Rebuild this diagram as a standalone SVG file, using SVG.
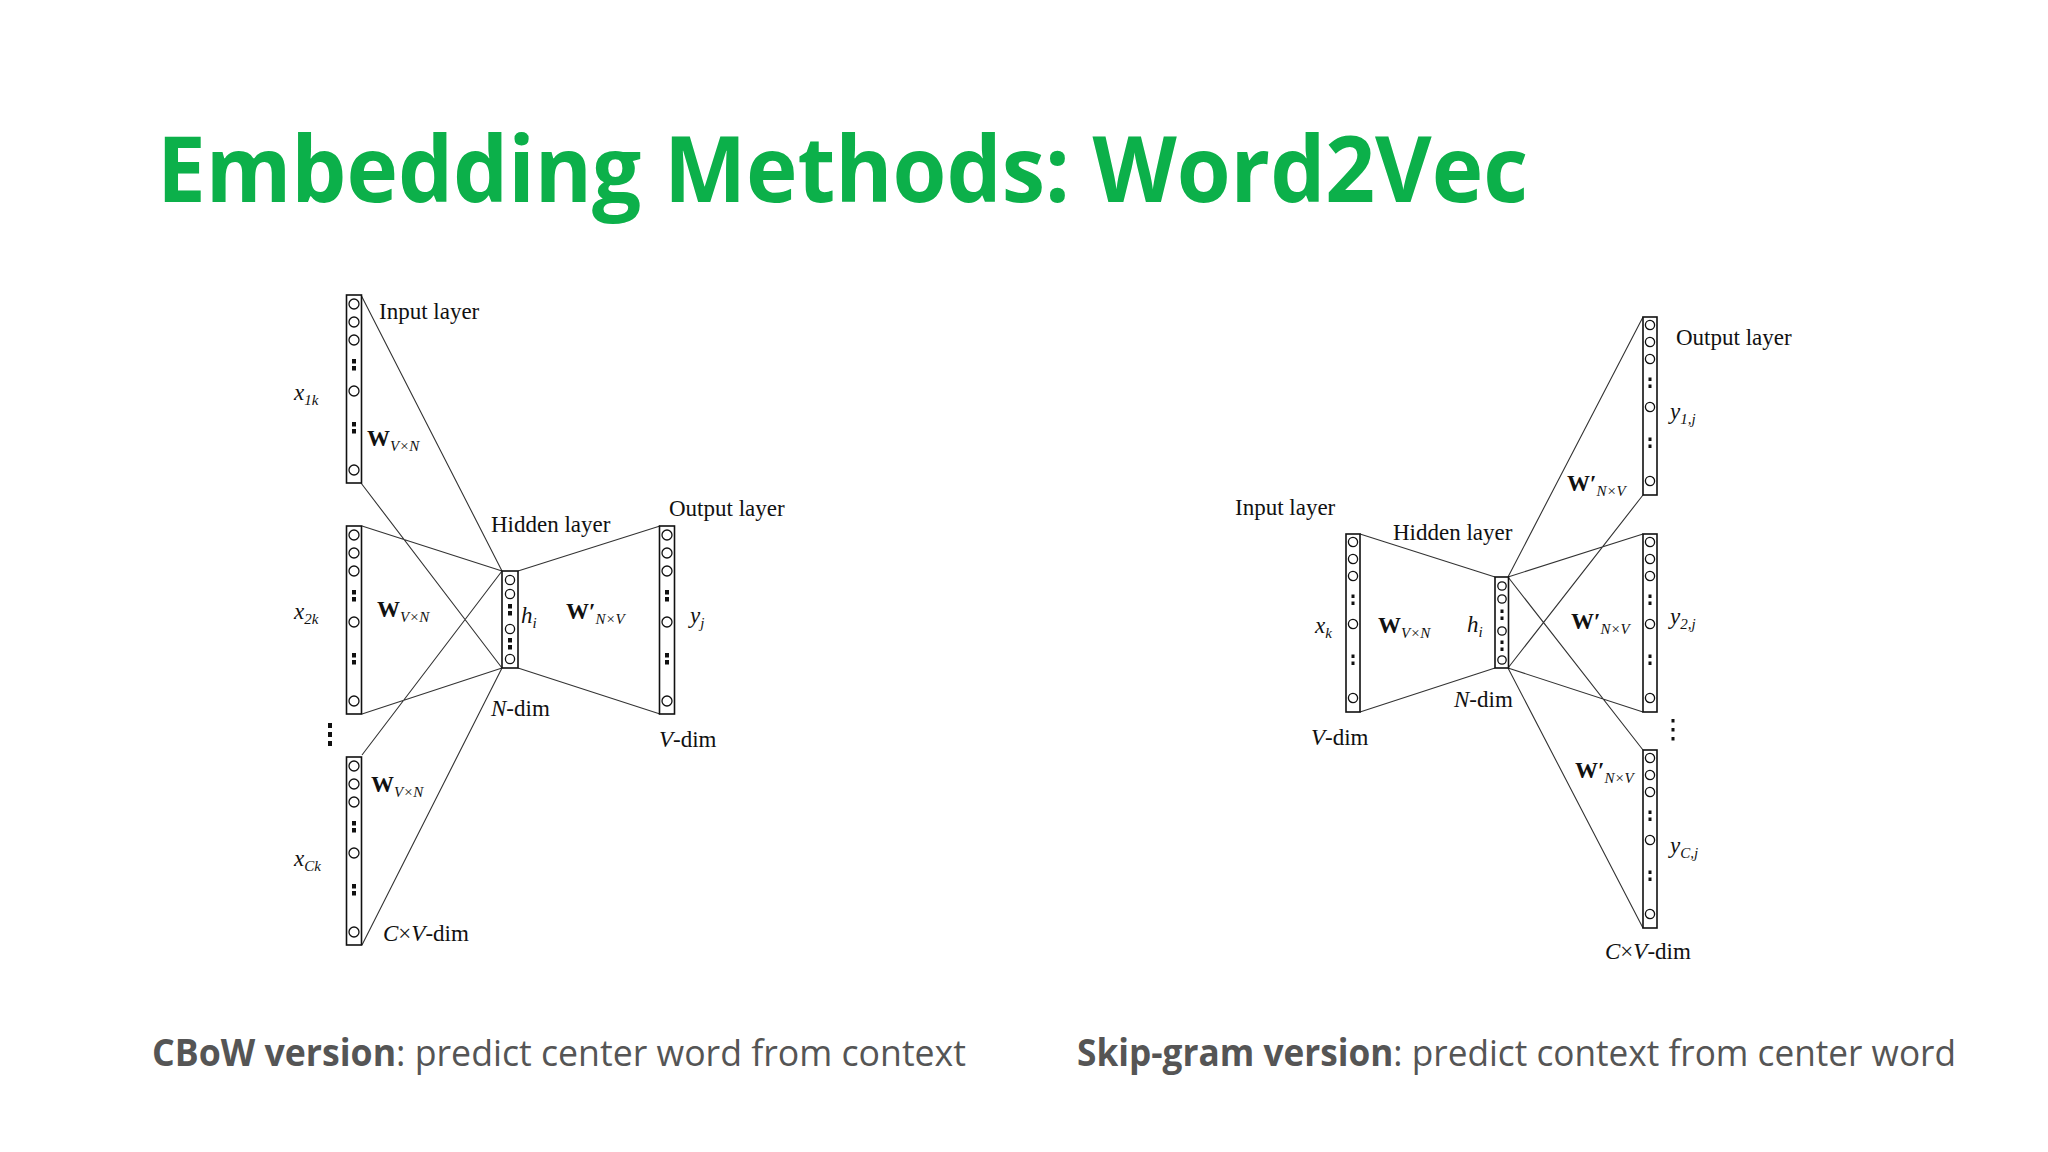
<svg xmlns="http://www.w3.org/2000/svg" width="2048" height="1152" viewBox="0 0 2048 1152">
<style>
.t{font-family:"Liberation Serif",serif;font-size:23px;fill:#111}
.i{font-style:italic}
.b{font-weight:bold}
.s{font-size:15px;font-style:italic}
.box{fill:#fff;stroke:#111;stroke-width:1.6}
.c{fill:#fff;stroke:#111;stroke-width:1.3}
.l{stroke:#333;stroke-width:1.1;fill:none}
.cap{font-family:"Open Sans","Liberation Sans",sans-serif;font-size:37px;fill:#555}
</style>
<defs>
<g id="dots"><rect x="-2" y="-2" width="4" height="4.5" fill="#111"/><rect x="-2" y="5" width="4" height="4.5" fill="#111"/></g>
<g id="lcol">
<rect class="box" x="-7.5" y="0" width="15" height="188"/>
<circle class="c" cx="0" cy="9" r="5"/><circle class="c" cx="0" cy="27" r="5"/><circle class="c" cx="0" cy="45" r="5"/>
<use href="#dots" y="66"/><circle class="c" cx="0" cy="96" r="5"/><use href="#dots" y="129"/><circle class="c" cx="0" cy="175" r="5"/>
</g>
<g id="sdots"><rect x="-1.5" y="-1.5" width="3" height="3.5" fill="#111"/><rect x="-1.5" y="5.5" width="3" height="3.5" fill="#111"/></g>
<g id="rcol">
<rect class="box" x="-7" y="0" width="14" height="178"/>
<circle class="c" cx="0" cy="8" r="4.6"/><circle class="c" cx="0" cy="25" r="4.6"/><circle class="c" cx="0" cy="42" r="4.6"/>
<use href="#sdots" y="62"/><circle class="c" cx="0" cy="90" r="4.6"/><use href="#sdots" y="122"/><circle class="c" cx="0" cy="164" r="4.6"/>
</g>
</defs>
<rect width="2048" height="1152" fill="#fff"/>
<text x="157" y="202" font-family="'Open Sans','Liberation Sans',sans-serif" font-weight="bold" font-size="92" fill="#0cb04a" textLength="1371" lengthAdjust="spacingAndGlyphs">Embedding Methods: Word2Vec</text>

<g id="connectors">
<path class="l" d="M361,295L502,571M361,483L502,668M362,526L502,571M362,714L502,668M362,755L502,571M362,945L502,668M518,571L660,526M518,668L660,714"/>
<path class="l" d="M1360,534L1495,577M1360,712L1495,668M1508,577L1643,317M1508,668L1643,495M1508,577L1643,534M1508,668L1643,712M1508,577L1643,750M1508,668L1643,928"/>
</g>

<g id="cbow-input1"><use href="#lcol" x="354" y="295"/></g>
<g id="cbow-input2"><use href="#lcol" x="354" y="526"/></g>
<g id="cbow-input3"><use href="#lcol" x="354" y="757"/></g>
<g id="cbow-output"><use href="#lcol" x="667" y="526"/></g>
<g id="cbow-hidden">
<rect class="box" x="502" y="571" width="16" height="97"/>
<circle class="c" cx="510" cy="580" r="4.6"/><circle class="c" cx="510" cy="594" r="4.6"/>
<use href="#dots" x="510" y="606"/><circle class="c" cx="510" cy="629" r="4.6"/><use href="#dots" x="510" y="640"/><circle class="c" cx="510" cy="659" r="4.6"/>
</g>
<g id="cbow-vdots"><rect x="328" y="723" width="4" height="5" fill="#111"/><rect x="328" y="732" width="4" height="5" fill="#111"/><rect x="328" y="741" width="4" height="5" fill="#111"/></g>
<g id="cbow-labels">
<text class="t" x="379" y="319">Input layer</text>
<text class="t i" x="294" y="400">x<tspan class="s" dy="5">1k</tspan></text>
<text class="t b" x="367" y="446">W<tspan class="s" font-weight="normal" dy="5">V×N</tspan></text>
<text class="t i" x="294" y="619">x<tspan class="s" dy="5">2k</tspan></text>
<text class="t b" x="377" y="617">W<tspan class="s" font-weight="normal" dy="5">V×N</tspan></text>
<text class="t b" x="371" y="792">W<tspan class="s" font-weight="normal" dy="5">V×N</tspan></text>
<text class="t i" x="294" y="866">x<tspan class="s" dy="5">Ck</tspan></text>
<text class="t" x="383" y="941"><tspan class="i">C</tspan>×<tspan class="i">V</tspan>-dim</text>
<text class="t" x="491" y="532">Hidden layer</text>
<text class="t" x="669" y="516">Output layer</text>
<text class="t i" x="521" y="623">h<tspan class="s" dy="5">i</tspan></text>
<text class="t b" x="566" y="619">W′<tspan class="s" font-weight="normal" dy="5">N×V</tspan></text>
<text class="t i" x="690" y="623">y<tspan class="s" dy="5">j</tspan></text>
<text class="t" x="491" y="716"><tspan class="i">N</tspan>-dim</text>
<text class="t" x="659" y="747"><tspan class="i">V</tspan>-dim</text>
</g>

<g id="sg-input"><use href="#rcol" x="1353" y="534"/></g>
<g id="sg-hidden">
<rect class="box" x="1495" y="577" width="13.5" height="91"/>
<circle class="c" cx="1502" cy="586" r="4.2"/><circle class="c" cx="1502" cy="599" r="4.2"/>
<use href="#sdots" x="1502" y="611"/><circle class="c" cx="1502" cy="631" r="4.2"/><use href="#sdots" x="1502" y="642"/><circle class="c" cx="1502" cy="660" r="4.2"/>
</g>
<g id="sg-output1"><use href="#rcol" x="1650" y="317"/></g>
<g id="sg-output2"><use href="#rcol" x="1650" y="534"/></g>
<g id="sg-output3"><use href="#rcol" x="1650" y="750"/></g>
<g id="sg-vdots"><rect x="1671.5" y="719" width="3" height="3.5" fill="#111"/><rect x="1671.5" y="728" width="3" height="3.5" fill="#111"/><rect x="1671.5" y="737" width="3" height="3.5" fill="#111"/></g>
<g id="sg-labels">
<text class="t" x="1235" y="515">Input layer</text>
<text class="t" x="1393" y="540">Hidden layer</text>
<text class="t" x="1676" y="345">Output layer</text>
<text class="t i" x="1670" y="419">y<tspan class="s" dy="5">1,j</tspan></text>
<text class="t b" x="1567" y="491">W′<tspan class="s" font-weight="normal" dy="5">N×V</tspan></text>
<text class="t i" x="1315" y="633">x<tspan class="s" dy="5">k</tspan></text>
<text class="t b" x="1378" y="633">W<tspan class="s" font-weight="normal" dy="5">V×N</tspan></text>
<text class="t i" x="1467" y="632">h<tspan class="s" dy="5">i</tspan></text>
<text class="t b" x="1571" y="629">W′<tspan class="s" font-weight="normal" dy="5">N×V</tspan></text>
<text class="t i" x="1670" y="624">y<tspan class="s" dy="5">2,j</tspan></text>
<text class="t" x="1454" y="707"><tspan class="i">N</tspan>-dim</text>
<text class="t" x="1311" y="745"><tspan class="i">V</tspan>-dim</text>
<text class="t b" x="1575" y="778">W′<tspan class="s" font-weight="normal" dy="5">N×V</tspan></text>
<text class="t i" x="1670" y="853">y<tspan class="s" dy="5">C,j</tspan></text>
<text class="t" x="1605" y="959"><tspan class="i">C</tspan>×<tspan class="i">V</tspan>-dim</text>
</g>

<text class="cap" x="152" y="1066" textLength="814" lengthAdjust="spacingAndGlyphs"><tspan font-weight="bold">CBoW version</tspan>: predict center word from context</text>
<text class="cap" x="1077" y="1066" textLength="879" lengthAdjust="spacingAndGlyphs"><tspan font-weight="bold">Skip-gram version</tspan>: predict context from center word</text>
</svg>
